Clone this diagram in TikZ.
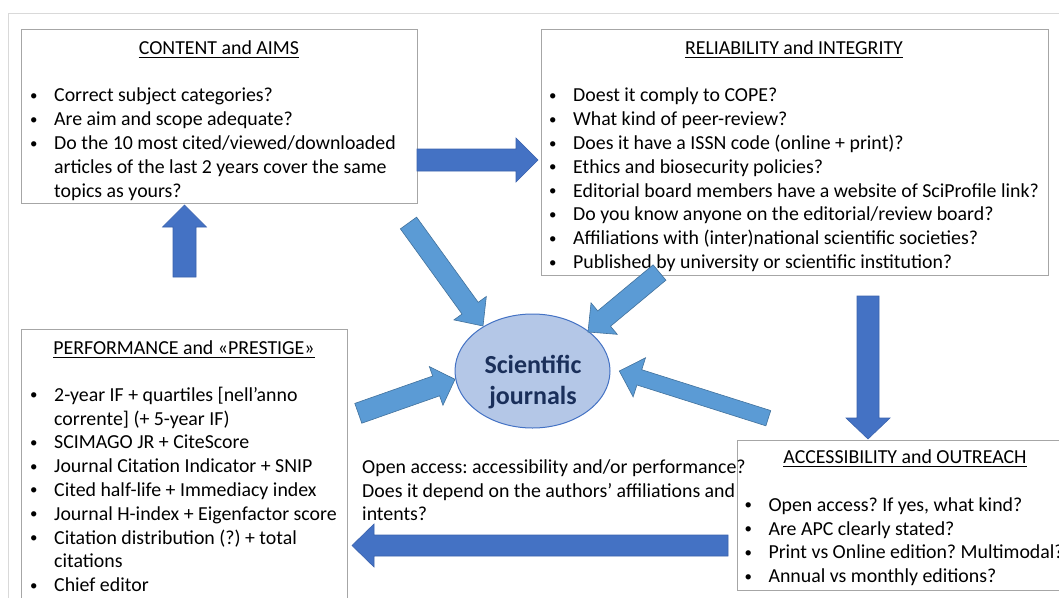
\documentclass[tikz,border=0pt]{standalone}
\usepackage{fontspec}
\usepackage{graphicx}
\setmainfont{Carlito}
\usetikzlibrary{calc,shapes.geometric}
\frenchspacing
\definecolor{dkblue}{HTML}{4472C4}
\definecolor{dkline}{HTML}{3A62AD}
\definecolor{ltblue}{HTML}{5B9BD5}
\definecolor{ltline}{HTML}{41719C}
\definecolor{ellfill}{HTML}{B4C7E7}
\definecolor{navy}{HTML}{1A2F5A}
\definecolor{boxgray}{HTML}{A6A6A6}
\definecolor{framegray}{HTML}{D9D9D9}
\newcommand\bul{\makebox[25pt][l]{\hspace*{1pt}\raisebox{1.5pt}{\scalebox{0.75}{\textbullet}}}}
\newcommand\ind{\hspace*{25pt}}
\newcommand\fl{\rule{0pt}{16pt}}
% style, tail, tip, half shaft, half head, head length
\newcommand\blockarrow[6]{%
  \coordinate (hb) at ($(#3)!#6!(#2)$);
  \filldraw[#1] ($(#2)!#4!90:(#3)$) -- ($(hb)!#4!90:(#3)$) -- ($(hb)!#5!90:(#3)$)
    -- (#3) -- ($(hb)!#5!-90:(#3)$) -- ($(hb)!#4!-90:(#3)$) -- ($(#2)!#4!-90:(#3)$) -- cycle;
}
\tikzset{
  box/.style={draw=boxgray, line width=1pt, fill=white, rectangle, inner sep=0pt, anchor=north west},
  body/.style={anchor=north west, align=left, inner sep=0pt, font=\fontsize{19.85}{23.8}\selectfont},
  ttl/.style={anchor=base, inner sep=0pt, font=\fontsize{19.85}{23.8}\selectfont},
  uline/.style={line width=0.9pt, black},
  darrow/.style={fill=dkblue, draw=dkline, line width=0.6pt},
  larrow/.style={fill=ltblue, draw=ltline, line width=0.6pt},
}
\begin{document}
\begin{tikzpicture}[x=1pt,y=-1pt]
\useasboundingbox (0,0) rectangle (1059,597);
\clip (0,0) rectangle (1059,597);
\fill[white] (0,0) rectangle (1059,597);
% outer frame
\draw[framegray, line width=1pt] (8.3,620) -- (8.3,13.3) -- (1080,13.3);

% box 1
\node[box, minimum width=395.7pt, minimum height=173.7pt] (b1) at (21,29.3) {};
\node[ttl] (t1) at (219,54.3) {CONTENT and AIMS};
\draw[uline] ([yshift=-3pt]t1.base west) -- ([yshift=-3pt]t1.base east);
\node[body] (x1) at (29,85.7) {\fl\bul Correct subject categories?\\
\bul Are aim and scope adequate?\\
\bul Do the 10 most cited/viewed/downloaded\\
\ind articles of the last 2 years cover the same\\
\ind topics as yours?};

% box 2
\node[box, minimum width=507.3pt, minimum height=246pt] (b2) at (540.7,29.3) {};
\node[ttl] (t2) at (794,54.3) {RELIABILITY and INTEGRITY};
\draw[uline] ([yshift=-3pt]t2.base west) -- ([yshift=-3pt]t2.base east);
\node[body] (x2) at (548,85.7) {\fl\bul Doest it comply to COPE?\\
\bul What kind of peer-review?\\
\bul Does it have a ISSN code (online + print)?\\
\bul Ethics and biosecurity policies?\\
\bul Editorial board members have a website of SciProfile link?\\
\bul Do you know anyone on the editorial/review board?\\
\bul Affiliations with (inter)national scientific societies?\\
\bul Published by university or scientific institution?};

% box 3
\node[box, minimum width=326pt, minimum height=300pt] (b3) at (21,329.3) {};
\node[ttl] (t3) at (184,354.3) {PERFORMANCE and «PRESTIGE»};
\draw[uline] ([yshift=-3pt]t3.base west) -- ([yshift=-3pt]t3.base east);
\node[body] (x3) at (29,385) {\fl\bul 2-year IF + quartiles [nell’anno\\
\ind corrente] (+ 5-year IF)\\
\bul SCIMAGO JR + CiteScore\\
\bul Journal Citation Indicator + SNIP\\
\bul Cited half-life + Immediacy index\\
\bul Journal H-index + Eigenfactor score\\
\bul Citation distribution (?) + total\\
\ind citations\\
\bul Chief editor};

% box 4
\node[box, minimum width=336pt, minimum height=150pt] (b4) at (736.7,440) {};
\node[ttl] (t4) at (905,463) {ACCESSIBILITY and OUTREACH};
\draw[uline] ([yshift=-3pt]t4.base west) -- ([yshift=-3pt]t4.base east);
\node[body] (x4) at (743.3,495) {\fl\bul Open access? If yes, what kind?\\
\bul Are APC clearly stated?\\
\bul Print vs Online edition? Multimodal?\\
\bul Annual vs monthly editions?};

% free text
\node[body] (ft) at (362,457) {\fl Open access: accessibility and/or performance?\\
Does it depend on the authors’ affiliations and\\
intents?};

% ellipse
\node[ellipse, fill=ellfill, draw=dkblue, line width=1pt, minimum width=155pt, minimum height=114pt, inner sep=0pt] (sj) at (532.5,371) {};
\node[anchor=north, align=center, inner sep=0pt, text=navy, font=\fontsize{26}{30.7}\selectfont\bfseries] (sjt) at (533,353.3) {\rule{0pt}{20pt}Scientific\\journals};

% dark block arrows
\coordinate (a1t) at (417,160); \coordinate (a1h) at (538,160);
\blockarrow{darrow}{a1t}{a1h}{11pt}{22pt}{22pt}
\coordinate (a2t) at (184.5,277); \coordinate (a2h) at (184.5,205);
\blockarrow{darrow}{a2t}{a2h}{11.5pt}{22pt}{22pt}
\coordinate (a3t) at (868,296); \coordinate (a3h) at (868,439);
\blockarrow{darrow}{a3t}{a3h}{11pt}{22pt}{21pt}
\coordinate (a4t) at (728,545.5); \coordinate (a4h) at (352,545.5);
\blockarrow{darrow}{a4t}{a4h}{10.5pt}{21.5pt}{22pt}

% light block arrows into the ellipse
\coordinate (l1t) at (408.5,223); \coordinate (l1h) at (483,326);
\blockarrow{larrow}{l1t}{l1h}{10pt}{20pt}{22pt}
\coordinate (l2t) at (659.5,272.5); \coordinate (l2h) at (588,332);
\blockarrow{larrow}{l2t}{l2h}{10pt}{20.5pt}{21pt}
\coordinate (l3t) at (358.3,413.3); \coordinate (l3h) at (455,379.3);
\blockarrow{larrow}{l3t}{l3h}{10.5pt}{20.5pt}{20pt}
\coordinate (l4t) at (768.3,418.2); \coordinate (l4h) at (619.3,371);
\blockarrow{larrow}{l4t}{l4h}{8pt}{20.5pt}{21pt}
\end{tikzpicture}
\end{document}
